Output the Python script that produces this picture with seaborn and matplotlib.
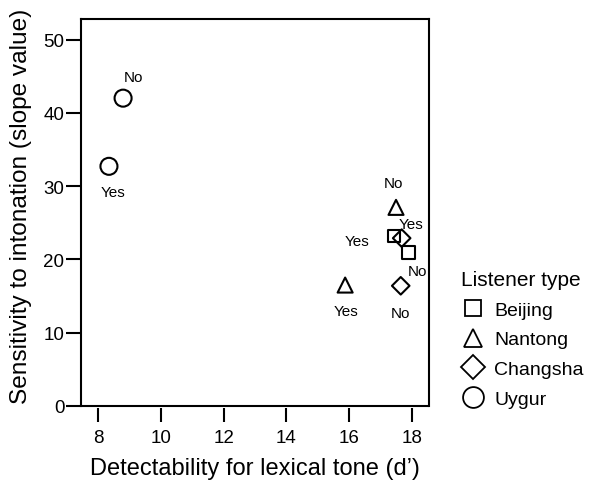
import matplotlib
matplotlib.use("Agg")
import matplotlib.pyplot as plt
from matplotlib.lines import Line2D
import seaborn as sns
import pandas as pd

# ---- data ----
listener = ["Uygur", "Uygur", "Nantong", "Nantong", "Beijing", "Beijing", "Changsha", "Changsha"]
tone_lang = ["Yes", "No", "Yes", "No", "Yes", "No", "Yes", "No"]
dprime = [8.35, 8.80, 15.87, 17.49, 17.43, 17.88, 17.67, 17.64]
slope = [32.7, 42.0, 16.5, 27.1, 23.2, 20.9, 22.9, 16.4]
legend_order = ["Beijing", "Nantong", "Changsha", "Uygur"]
x_ticks = [8, 10, 12, 14, 16, 18]
y_ticks = [0, 10, 20, 30, 40, 50]

# ---- styling ----
markers = {"Beijing": "s", "Nantong": "^", "Changsha": "D", "Uygur": "o"}
sizes = {"Beijing": 83, "Nantong": 117, "Changsha": 80, "Uygur": 150}
# label offsets in pixels (dx, dy) for each point in order
offsets = [(4, -26), (10, 21), (1, -26), (-3, 24), (-37, -5), (9, -18), (9, 14), (0, -27)]

sns.set_theme(style="white")
plt.rcParams["font.family"] = ["Liberation Sans", "DejaVu Sans"]
for k in ["text.color", "axes.labelcolor", "xtick.color", "ytick.color"]:
    plt.rcParams[k] = "black"

df = pd.DataFrame({"Listener": listener, "Tone": tone_lang, "dprime": dprime, "slope": slope})

fig = plt.figure(figsize=(5.92, 4.81), dpi=100)
ax = fig.add_axes([81 / 592, 1 - 407 / 481, (429 - 81) / 592, (407 - 20) / 481])

sns.scatterplot(data=df, x="dprime", y="slope", style="Listener", markers=markers,
                size="Listener", sizes=sizes, color="black", legend=False, ax=ax)
for coll in ax.collections:
    coll.set_facecolor("none")
    coll.set_edgecolor("black")
    coll.set_linewidth(1.5)

for xi, yi, t, (dx, dy) in zip(dprime, slope, tone_lang, offsets):
    ax.annotate(t, (xi, yi), xytext=(dx, dy), textcoords="offset pixels",
                ha="center", va="center", fontsize=11, color="black")

ax.set_xlim(7.46, 18.54)
ax.set_ylim(0, 52.8)
ax.set_xticks(x_ticks)
ax.set_yticks(y_ticks)
ax.tick_params(axis="both", direction="out", width=1.5, colors="black",
               labelsize=13.5, bottom=True, left=True)
ax.tick_params(axis="x", length=10, pad=5)
ax.tick_params(axis="y", length=11, pad=1)
for sp in ax.spines.values():
    sp.set_color("black")
    sp.set_linewidth(1.5)
ax.spines["bottom"].set_position(("outward", 1.5))
ax.spines["bottom"].set_visible(False)
ax.axhline(0, color="black", lw=1.5, clip_on=False)

ax.set_xlabel("Detectability for lexical tone (d’)", fontsize=17, labelpad=8)
ax.set_ylabel("Sensitivity to intonation (slope value)", fontsize=17.6)
ax.yaxis.set_label_coords(-0.14, 0.518)

msz = {"Beijing": 11, "Nantong": 13, "Changsha": 12, "Uygur": 15}
handles = [Line2D([], [], linestyle="none", marker=markers[k], markerfacecolor="none",
                  markeredgecolor="black", markeredgewidth=1.3, markersize=msz[k])
           for k in legend_order]
leg = fig.legend(handles, legend_order, title="Listener type", frameon=False,
                 loc="upper left", bbox_to_anchor=(461 / 592, 1 - 271 / 481),
                 bbox_transform=fig.transFigure, fontsize=14,
                 title_fontsize=15, handletextpad=0.5, labelspacing=0.62,
                 handlelength=1.2, borderaxespad=0, borderpad=0)
leg._legend_box.align = "left"

fig.savefig("out.png", dpi=100)
